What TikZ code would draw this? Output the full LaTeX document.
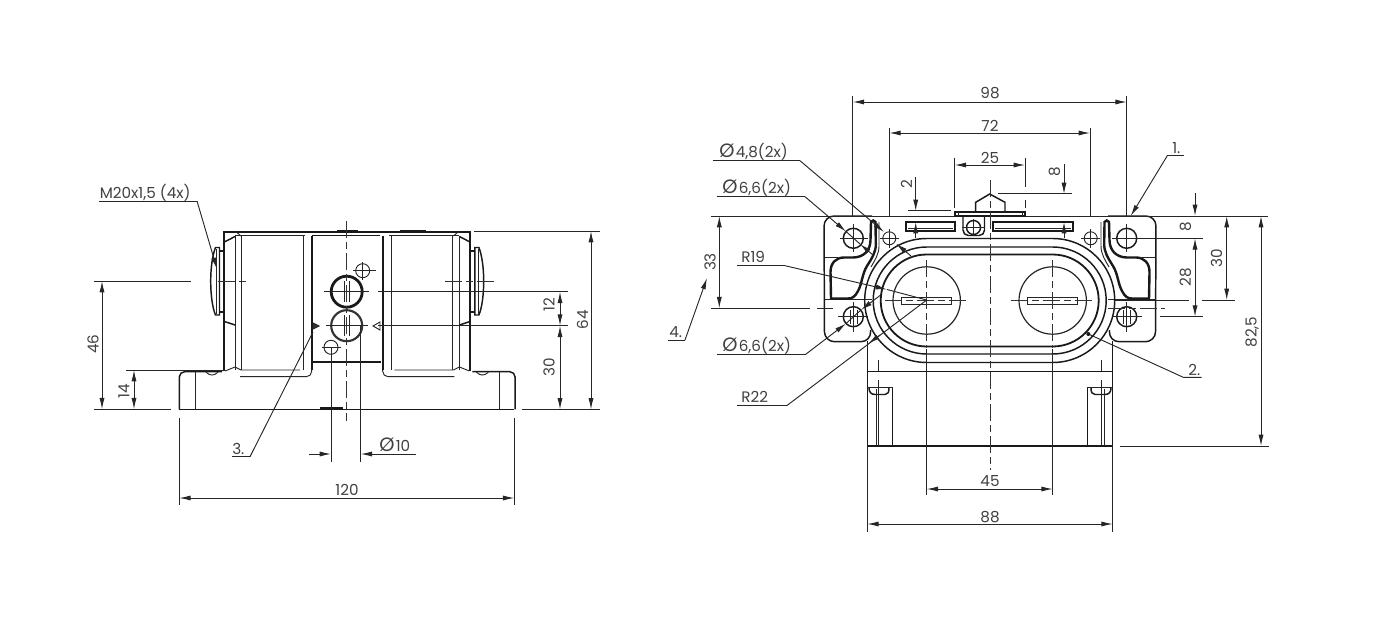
\documentclass[tikz,border=0pt]{standalone}
\usepackage{fontspec}
\setmainfont{Poppins}
\usetikzlibrary{arrows.meta}
\tikzset{
 thinl/.style={line width=0.7pt,draw=black!85},
 thickl/.style={line width=1.1pt,draw=black!90},
 fat/.style={line width=1.8pt,draw=black!90},
 ctr/.style={line width=0.7pt,draw=black!80,dash pattern=on 13pt off 3pt on 5pt off 3pt},
 dimv/.style={line width=0.7pt,draw=black!85,{Latex[length=8.5pt,width=3.8pt]}-{Latex[length=8.5pt,width=3.8pt]}},
 arr/.style={line width=0.7pt,draw=black!85,-{Latex[length=8.5pt,width=3.8pt]}},
 lab/.style={inner sep=0pt,text=black!75,font=\fontsize{11.4}{13}\selectfont},
 vlab/.style={lab,rotate=90},
}
\newcommand{\dia}{{\fontsize{14.5}{14}\selectfont Ø}\kern1pt}
\newcommand{\sideHalf}{%
 \draw[thickl,rounded corners=4pt] (179.3,409.3)--(179.3,371.7)--(222,371.7);
 \draw[thinl] (195,372)--(195,409.3);
 \draw[thinl] (206,372.2) .. controls (210,376) and (214,376) .. (218,372.2);
 \draw[line width=1.5pt,draw=black!90] (224.3,371)--(224.3,231.7)--(347,231.7);
 \draw[thinl] (235,236)--(235,370) (241.5,236)--(241.5,370) (303.3,236)--(303.3,370);
 \draw[thinl] (235,235.6)--(305,235.6);
 \draw[thinl] (236,231.7)--(241,236);
 \draw[thickl] (225,241.7)--(235,236.5) (225,321.7)--(235,325);
 \draw[thinl] (225,371)--(235,367)--(241,370)--(300,370);
 \draw[thinl,rounded corners=4pt] (240,376.7)--(311.7,376.7)--(311.7,365);
 \draw[fat] (311.7,236)--(311.7,370);
 % lug
 \draw[thickl] (215.5,247.5) .. controls (212.5,255) and (210.7,268) .. (210.7,281) .. controls (210.7,295) and (212.5,308) .. (215.5,315) -- (219.5,315) -- (219.5,247.5) -- cycle;
 \draw[thickl] (219.5,251)--(224,251) (219.5,312)--(224,312);
 \draw[thinl] (216,249)--(216,314);
}
\newcommand{\flangeHalf}{%
 % flange outline
 \draw[thickl,rounded corners=7.5pt] (872,216)--(824,216)--(824.5,341.7)--(871,341.7)--(870.5,330);
 \draw[thinl] (825,257.3)--(838,257.3);
 \draw[thinl] (824.5,299)--(872,299);
 % inner thick contour
 \draw[fat] (871,222) .. controls (871.5,220) and (875,220) .. (875.5,222)
   -- (875.8,244) .. controls (876,252) and (872,258) .. (867,266)
   .. controls (862,274) and (862,284) .. (858,291) .. controls (855,297) and (852,298.5) .. (848,298.5)
   -- (831,298.5) -- (830.5,272) .. controls (830.5,263) and (836,257.5) .. (844,257.5)
   -- (853,257.5) .. controls (864,257.5) and (870.5,250) .. (870.5,240) -- cycle;
 \draw[thinl] (879,222)--(879,246) .. controls (879,254) and (875,260) .. (871,267);
 % holes
 \draw[thickl] (853.3,238.3) circle (10);
 \draw[thickl] (853.3,316.7) circle (10);
 \draw[thinl] (889.3,238.3) circle (6.5);
 \draw[thinl] (840,238.3)--(868,238.3) (853.3,224)--(853.3,252);
 \draw[thinl] (838,316.7)--(868,316.7) (853.3,302)--(853.3,332);
 \draw[thinl] (880,238.3)--(899,238.3) (889.3,229)--(889.3,248);
 \draw[thinl] (850,310)--(850,324) (857,310)--(857,324);
 % lower box details
 \draw[thickl] (867.3,341)--(867.3,446);
 \draw[thickl] (892.7,387.7)--(892.7,446);
 \draw[thinl] (867.3,387.7)--(892.7,387.7);
 \draw[thickl] (869,388) .. controls (869,392) and (871,394.5) .. (875,394.5)--(885,394.5) .. controls (888,394.5) and (889,392) .. (889,388);
 \draw[thinl] (878.3,360)--(878.3,372) (878.3,380)--(878.3,446) (876,389)--(876,446);
}
\begin{document}
\begin{tikzpicture}[x=0.75pt,y=-0.75pt]
\useasboundingbox (0,0) rectangle (1380,631);
% ===== LEFT VIEW =====
\sideHalf
\begin{scope}[shift={(694.4,0)},xscale=-1]\sideHalf\end{scope}
\draw[thinl,fill=black!80] (313,323)--(319,326)--(313,329)--cycle;
\draw[thinl] (380,322)--(373,326)--(380,330)--cycle;
\draw[thickl] (179,409.3)--(514.3,409.3);
\draw[thickl] (312,235.3)--(380,235.3);
\draw[fat] (312,361.7)--(381,361.7);
\draw[fat] (337,231.5)--(358,231.5) (320,407.8)--(343,407.8);
\draw[fat] (400,231.5)--(426,231.5);
\draw[line width=2.1pt,draw=black!90] (346.7,291.7) circle (15.5);
\draw[line width=1.6pt,draw=black!80] (346.7,325.7) circle (15.5);
\draw[thinl] (362.7,270.7) circle (7);
\draw[thinl] (331,347.3) circle (7);
\draw[thinl] (353,270.7)--(376,270.7) (362.7,262)--(362.7,280);
\draw[thinl] (322,347.3)--(341,347.3);
\draw[ctr] (346.7,221)--(346.7,421);
\draw[thinl] (324,291.7)--(369,291.7) (326,325.7)--(368,325.7);
\draw[thinl] (344.5,281)--(344.5,302) (349,281)--(349,302) (344.5,315)--(344.5,336) (349,315)--(349,336);
% leader & dims
\draw[ctr] (218,281)--(250,281) (445,281)--(494,281);
\draw[thinl] (94,281)--(191,281);
\draw[dimv] (102,281)--(102,409.3);
\draw[thinl] (94,409.3)--(171,409.3);
\draw[dimv] (134,370)--(134,409.3);
\draw[thinl] (126,370)--(224,370);
\node[vlab] (d46) at (93,344) {46};
\node[vlab] (d14) at (124,391) {14};
\draw[thinl] (99,201)--(197,201);
\draw[arr] (197,201)--(217,269);
\node[lab,anchor=base west] (m20) at (99.5,198.5) {M20x1,5 (4x)};
\draw[thinl] (232,456.7)--(250,456.7);
\draw[thinl] (250,456.7)--(313,332);
\node[lab,anchor=base west] (n3) at (232,454.5) {3.};
\draw[thinl] (331,347)--(331,462) (360.7,326)--(360.7,462);
\draw[arr] (309,454)--(331,454);
\draw[arr] (416,454)--(360.7,454);
\node[lab,anchor=base west] (d10) at (379,451) {\dia 10};
\draw[thinl] (179.3,418)--(179.3,505) (514.3,418)--(514.3,505);
\draw[dimv] (179.3,498)--(514.3,498);
\node[lab] (d120) at (347,489.5) {120};
\draw[thinl] (474,231)--(600,231) (522,409.5)--(600,409.5);
\draw[dimv] (591,231)--(591,409.5);
\node[vlab] (d64) at (582.5,320) {64};
\draw[thinl] (378,291.7)--(568,291.7) (378,325.7)--(568,325.7);
\draw[dimv] (560,291.7)--(560,325.7);
\draw[dimv] (560,325.7)--(560,409.5);
\node[vlab] (d12) at (549,305) {12};
\node[vlab] (d30a) at (549,367) {30};
% ===== RIGHT VIEW =====
\flangeHalf
\begin{scope}[shift={(1980,0)},xscale=-1]\flangeHalf\end{scope}
\draw[thinl] (711,216)--(1268,216);
\draw[thickl] (867.3,371.7)--(1112.7,371.7);
\draw[thickl] (867.3,446)--(1112.7,446);
% racetracks
\draw[line width=1.35pt,draw=black!90] (926.7,254.5) arc[start angle=-90,end angle=-270,radius=46] -- (1052.7,346.5) arc[start angle=90,end angle=-90,radius=46] -- cycle;
\draw[thickl] (926.7,247) arc[start angle=-90,end angle=-270,radius=53.5] -- (1052.7,354) arc[start angle=90,end angle=-90,radius=53.5] -- cycle;
\draw[thickl] (926.7,238.5) arc[start angle=-90,end angle=-270,radius=62] -- (1052.7,362.5) arc[start angle=90,end angle=-90,radius=62] -- cycle;
\foreach \cx in {926.7,1052.7}{
 \draw[line width=0.9pt,draw=black!85] (\cx,300.5) circle (33.7);
 \draw[thinl] (\cx-25,297)rectangle(\cx+25,304);
 \draw[ctr] (\cx-42,300.5)--(\cx+42,300.5);
 \draw[ctr] (\cx,260)--(\cx,348);
 \draw[thinl] (\cx,349)--(\cx,495);
}
% top parts
\draw[thickl] (955,212)rectangle(1025,216);
\draw[thinl] (958,212)--(958,216) (1022,212)--(1022,216);
\draw[thickl] (975.7,212)--(975.7,202.3)--(989.7,194)--(1005,202.3)--(1005,212);
\draw[thickl,rounded corners=4pt] (963,216)--(963,235.5)--(984.5,235.5)--(984.5,216);
\draw[thickl] (973.5,227.5) circle (7);
\draw[thinl] (962,227.5)--(985,227.5) (973.5,219)--(973.5,236);
\draw[line width=1.35pt,draw=black!90] (906,221.7)rectangle(955,230.7);
\draw[thinl] (908,228.3)--(953,228.3);
\draw[line width=1.35pt,draw=black!90] (993.3,221.7)rectangle(1073.3,230.7);
\draw[thinl] (995,228.3)--(1071,228.3);
\draw[ctr] (990,180)--(990,470);
% dims
\draw[thinl] (852.7,96)--(852.7,216) (1126.7,96)--(1126.7,216);
\draw[dimv] (852.7,102)--(1126.7,102);
\node[lab] (d98) at (990,93.5) {98};
\draw[thinl] (889.3,128)--(889.3,216) (1090,128)--(1090,216);
\draw[dimv] (889.3,133)--(1090,133);
\node[lab] (d72) at (990,126) {72};
\draw[thinl] (954.7,158)--(954.7,208);
\draw[thinl] (1025,158)--(1025,187) (1025,200)--(1025,208);
\draw[dimv] (954.7,165)--(1025,165);
\node[lab] (d25) at (990,157.5) {25};
\draw[arr] (915.7,177)--(915.7,211);
\draw[thinl] (908,210.7)--(951,210.7);
\draw[arr] (915.7,238)--(915.7,222);
\node[vlab] (d2) at (906.5,184) {2};
\draw[arr] (1064,164)--(1064,194);
\draw[thinl] (998,193.7)--(1072,193.7);
\draw[arr] (1064,238)--(1064,222);
\node[vlab] (d8a) at (1054.5,172) {8};
% leaders left
\draw[thinl] (712.7,160.7)--(800,160.7);
\draw[arr] (800,160.7)--(884,232);
\draw[arr] (911,256)--(896,243.5);
\node[lab,anchor=base west] (p48) at (719,157.5) {\dia 4,8(2x)};
\draw[thinl] (716.7,196.7)--(805,196.7);
\draw[arr] (805,196.7)--(846,231.5);
\draw[arr] (873,255)--(860,244);
\draw[thinl] (860,244)--(846,231.5);
\node[lab,anchor=base west] (p66a) at (722,193.5) {\dia 6,6(2x)};
\draw[thinl] (716.7,354.3)--(805.7,354.3);
\draw[arr] (805.7,354.3)--(846,323.5);
\draw[arr] (880,295.5)--(861,310);
\draw[thinl] (861,310)--(846,323.5);
\node[lab,anchor=base west] (p66b) at (722,351.5) {\dia 6,6(2x)};
\draw[thinl] (736.7,265.7)--(785,265.7);
\draw[arr] (785,265.7)--(887,289.5);
\draw[thinl] (887,289.5)--(926.7,300);
\node[lab,anchor=base west] (r19) at (741,262.5) {R19};
\draw[thinl] (736.7,405.7)--(786.7,405.7);
\draw[thinl] (786.7,405.7)--(926.7,300);
\draw[arr] (880,335)--(868.5,343.5);
\node[lab,anchor=base west] (r22) at (741,402.5) {R22};
\draw[thinl] (668,340)--(685,340);
\draw[arr] (685,340)--(707,278);
\node[lab,anchor=base west] (n4) at (669,337.5) {4.};
\draw[thinl] (711,308.3)--(810,308.3) (817,308.3)--(833,308.3);
\draw[dimv] (719.3,216)--(719.3,308.3);
\node[vlab] (d33) at (710,262) {33};
% leaders right
\draw[thinl] (1167.3,155.7)--(1184,155.7);
\draw[arr] (1167.3,155.7)--(1130.7,216);
\node[lab,anchor=base west] (n1) at (1172,153.5) {1.};
\draw[thinl] (1183.3,377.3)--(1201.7,377.3) (1183.3,377.3)--(1088.3,334);
\fill[black!90] (1088.3,334) circle (2);
\node[lab,anchor=base west] (n2) at (1188,375.5) {2.};
\draw[thinl] (1114,238.3)--(1203,238.3) (1160,316.7)--(1203,316.7);
\draw[ctr] (1108,308.3)--(1165,308.3);
\draw[arr] (1195,193)--(1195,216);
\draw[dimv] (1195,238.3)--(1195,316.7);
\node[vlab] (d8b) at (1185.5,226.5) {8};
\node[vlab] (d28) at (1185.5,277) {28};
\draw[thinl] (1115,300)--(1189,300) (1201.7,300)--(1235,300);
\draw[dimv] (1226.7,216)--(1226.7,300);
\node[vlab] (d30b) at (1216.5,258) {30};
\draw[thinl] (1120,446)--(1268.7,446);
\draw[dimv] (1261,216)--(1261,446);
\node[vlab] (d825) at (1252,332) {82,5};
\draw[thinl] (867.3,446)--(867.3,532) (1112.7,446)--(1112.7,532);
\draw[dimv] (867.3,524)--(1112.7,524);
\node[lab] (d88) at (990,517.5) {88};
\draw[dimv] (926.7,489)--(1052.7,489);
\node[lab] (d45) at (990,481) {45};
\end{tikzpicture}
\end{document}
